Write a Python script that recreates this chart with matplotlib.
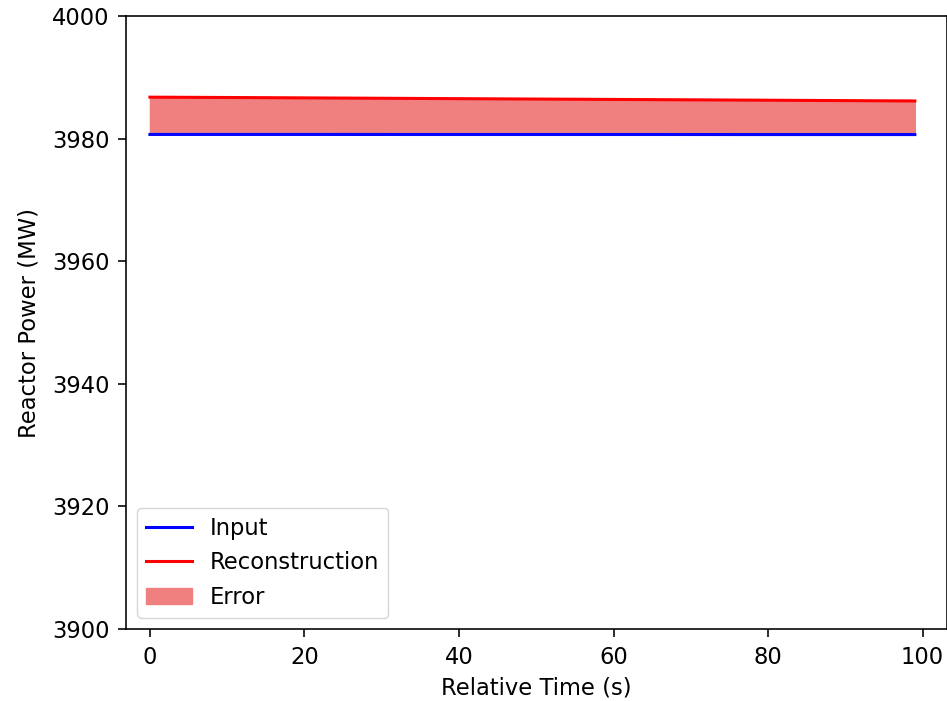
import matplotlib
matplotlib.use("Agg")
import matplotlib.pyplot as plt

time_s = [0, 11, 22, 33, 44, 55, 66, 77, 88, 99]
input_mw = [3980.68, 3980.68, 3980.68, 3980.67, 3980.67, 3980.67, 3980.67, 3980.66, 3980.66, 3980.66]
recon_mw = [3986.76, 3986.70, 3986.63, 3986.56, 3986.49, 3986.42, 3986.35, 3986.28, 3986.21, 3986.14]

s = 1.63
plt.rcParams.update({
    "font.size": 10 * s,
    "axes.linewidth": 0.8 * 1.45,
    "xtick.major.size": 3.5 * 1.6,
    "ytick.major.size": 3.5 * 1.6,
    "xtick.major.width": 0.8 * 1.45,
    "ytick.major.width": 0.8 * 1.45,
    "xtick.major.pad": 3.5 * 1.8,
    "ytick.major.pad": 3.5 * 1.8,
})

fig = plt.figure(figsize=(9.47, 7.01), dpi=100)
ax = fig.add_axes([126 / 947, 72 / 701, (946.5 - 126) / 947, (629 - 16) / 701])

ax.plot(time_s, input_mw, color="blue", linewidth=2.2, label="Input")
ax.plot(time_s, recon_mw, color="red", linewidth=2.2, label="Reconstruction")
ax.fill_between(time_s, input_mw, recon_mw, color="lightcoral", label="Error")

ax.set_xlim(-3.1, 103.1)
ax.set_ylim(3900, 4000)
ax.set_xticks([0, 20, 40, 60, 80, 100])
ax.set_yticks([3900, 3920, 3940, 3960, 3980, 4000])
ax.set_xlabel("Relative Time (s)", labelpad=6)
ax.set_ylabel("Reactor Power (MW)", labelpad=8)
ax.legend(loc="lower left")

fig.savefig("out.png", dpi=100)
